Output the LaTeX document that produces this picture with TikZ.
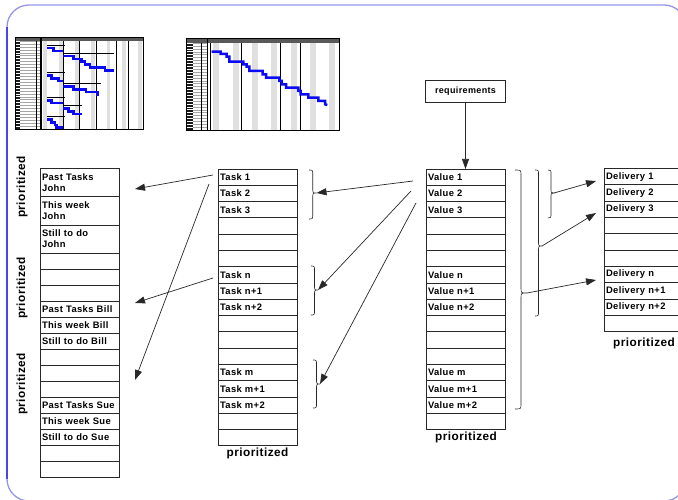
\documentclass[tikz,border=0pt]{standalone}
\usepackage{fontspec}
\setmainfont{Liberation Sans}
\newfontfamily\cellfont[LetterSpace=4]{Liberation Sans}
\usetikzlibrary{arrows.meta,calc}
\definecolor{framec}{RGB}{150,150,232}
\definecolor{frameb}{RGB}{70,70,235}
\definecolor{gblue}{RGB}{10,10,245}
\definecolor{lined}{RGB}{40,40,40}
\newcommand\mybrace[6]{%
  \draw[bracest] (#1,#2) .. controls ({(#1+#5)/2},#2) .. ({(#1+#5)/2},{#2+5})
    -- ({(#1+#5)/2},{#4-5}) .. controls ({(#1+#5)/2},#4) .. (#5,#4)
    .. controls ({(#1+#5)/2},#4) .. ({(#1+#5)/2},{#4+5})
    -- ({(#1+#5)/2},{#3-5}) .. controls ({(#1+#5)/2},#3) .. (#1,#3);
  \coordinate (#6) at (#5,#4);}
\tikzset{
  cell/.style={draw=lined, line width=0.7pt, minimum height=16.28pt, anchor=north west,
    inner xsep=2pt, inner ysep=0pt, outer sep=0pt, text width=75pt, align=left,
    font=\cellfont\bfseries\fontsize{9.4}{11}\selectfont},
  dcell/.style={cell, minimum height=28.3pt},
  scell/.style={cell, minimum height=16pt},
  prio/.style={font=\cellfont\bfseries\fontsize{11.8}{13}\selectfont, inner sep=0pt},
  conn/.style={draw=lined, line width=0.7pt, -{Triangle[length=10pt,width=7pt]}},
  bracest/.style={draw=lined, line width=0.6pt},
  gbar/.style={draw=gblue, line width=2.5pt},
  sbar/.style={draw=black, line width=1.2pt},
}
\begin{document}
\begin{tikzpicture}[x=1pt,y=-1pt]
\useasboundingbox (0,0) rectangle (678,500);
\clip (0,0) rectangle (678,500);
% frame
\draw[framec, line width=1.3pt, rounded corners=22pt] (7,5) rectangle (686,501);
\draw[frameb, line width=1.3pt] (7,27) -- (7,479);

% ---------- Gantt chart 1 ----------
\foreach \b in {43.3,59.1,74.9,90.7,106.5,122.3,138.1}
  \fill[black!12] (\b,41) rectangle ({\b+3.8},129);
\fill[black!65] (15,37) rectangle (143,41);
\fill[black!90] (15,41) rectangle (19.5,129);
\foreach \k in {0,...,30} {
  \draw[white, line width=0.4pt] (15,{41+\k*2.93}) -- (19.5,{41+\k*2.93});
  \draw[black!35, line width=0.3pt] (19.5,{41+\k*2.93}) -- (41,{41+\k*2.93});
}
\draw[line width=0.5pt] (36,41) -- (36,129);
\foreach \v in {63.3,79.3,96,116,128.3} \draw[line width=0.7pt] (\v,41) -- (\v,129);
\draw[line width=1.4pt] (41,37) -- (41,129);
\draw[line width=0.9pt] (15,37) rectangle (143,129);
\draw[sbar] (47.3,45.7)--(65,45.7);
\draw[sbar] (63.3,53.3)--(114,53.3);
\draw[sbar] (47.3,72.7)--(65,72.7);
\draw[sbar] (63.3,83.3)--(100.7,83.3);
\draw[sbar] (47.3,97.7)--(65,97.7);
\draw[sbar] (63.3,105.7)--(81.7,105.7);
\draw[sbar] (47.3,116.7)--(65,116.7);
\draw[gbar] (47.3,48) -- (53.3,48) -- (53.3,51) -- (63.3,51);
\draw[gbar] (63.3,56) -- (73.3,56) -- (73.3,59) -- (81.7,59) -- (81.7,61.7) -- (85,61.7) -- (85,64.3) -- (90,64.3) -- (90,67.3) -- (105,67.3) -- (105,70.3) -- (114,70.3);
\draw[gbar] (47.3,75.3) -- (51.7,75.3) -- (51.7,78.3) -- (58.3,78.3) -- (58.3,81) -- (63.3,81);
\draw[gbar] (63.3,86.7) -- (73.3,86.7) -- (73.3,89.3) -- (86,89.3) -- (86,92) -- (97.3,92) -- (97.3,94.3) -- (99.3,94.3);
\draw[gbar] (47.3,100.3) -- (51.7,100.3) -- (51.7,103) -- (63.3,103);
\draw[gbar] (63.3,108.7) -- (68.3,108.7) -- (68.3,111.3) -- (73.3,111.3) -- (73.3,114) -- (81.7,114);
\draw[gbar] (47.3,119.7) -- (51.7,119.7) -- (51.7,122.3) -- (55,122.3) -- (55,125) -- (56.7,125) -- (56.7,127.7) -- (63.3,127.7);

% ---------- Gantt chart 2 ----------
\foreach \b in {213.3,232.6,251.9,271.2,290.5,309.8,329.1}
  \fill[black!12] (\b,43) rectangle ({\b+6},130);
\fill[black!65] (186,38.3) rectangle (339.3,43);
\fill[black!90] (186,43) rectangle (192.7,130);
\foreach \k in {0,...,29} {
  \draw[white, line width=0.4pt] (186,{43+\k*2.9}) -- (192.7,{43+\k*2.9});
  \draw[black!35, line width=0.3pt] (192.7,{43+\k*2.9}) -- (207.5,{43+\k*2.9});
}
\draw[line width=0.5pt] (201.7,43) -- (201.7,130);
\foreach \v in {210,241.7,280.7,300.7} \draw[line width=0.7pt] (\v,43) -- (\v,130);
\draw[line width=1.4pt] (207.5,38.3) -- (207.5,130);
\draw[line width=0.9pt] (186,38.3) rectangle (339.3,130);
\draw[gbar] (211.7,51.7) -- (220.7,51.7) -- (220.7,54) -- (226.7,54) -- (226.7,56.7) -- (229.3,56.7) -- (229.3,61.7) -- (243.3,61.7) -- (243.3,64.3) -- (246.7,64.3) -- (246.7,66.7) -- (249.3,66.7) -- (249.3,71) -- (262.7,71) -- (262.7,74.3) -- (266,74.3) -- (266,77.7) -- (279.3,77.7) -- (279.3,81) -- (281.7,81) -- (281.7,84.3) -- (286,84.3) -- (286,87.7) -- (298.3,87.7) -- (298.3,91) -- (300.7,91) -- (300.7,94.3) -- (308.3,94.3) -- (308.3,97.7) -- (318.3,97.7) -- (318.3,101) -- (325,101) -- (325,104.3) -- (327.3,105);

% ---------- left column ----------
\node[dcell] (L1) at (40,168.3) {Past Tasks\\John};
\node[dcell] (L2) at (40,196.6) {This week\\John};
\node[dcell] (L3) at (40,224.9) {Still to do\\John};
\foreach \t [count=\i from 4] in {{},{},{},Past Tasks Bill,This week Bill,Still to do Bill,{},{},{},Past Tasks Sue,This week Sue,Still to do Sue,{},{}}
  \node[scell] (L\i) at (40,{253.2+(\i-4)*16}) {\t};
\node[prio, rotate=90] (p1) at (22,187) {prioritized};
\node[prio, rotate=90] (p2) at (22,288) {prioritized};
\node[prio, rotate=90] (p3) at (22,384) {prioritized};

% ---------- task column ----------
\foreach \t [count=\i] in {Task 1,Task 2,Task 3,{},{},{},Task n,Task n+1,Task n+2,{},{},{},Task m,Task m+1,Task m+2,{},{}}
  \node[cell] (T\i) at (218,{169+(\i-1)*16.28}) {\t};
\node[prio] (pt) at (257.5,453) {prioritized};

% ---------- value column ----------
\node[draw=lined, line width=0.7pt, minimum width=80pt, minimum height=22pt, inner sep=0pt,
  font=\cellfont\bfseries\fontsize{9}{10}\selectfont] (req) at (465.5,91) {requirements};
\foreach \t [count=\i] in {Value 1,Value 2,Value 3,{},{},{},Value n,Value n+1,Value n+2,{},{},{},Value m,Value m+1,Value m+2,{}}
  \node[cell] (V\i) at (426,{169+(\i-1)*16.28}) {\t};
\node[prio] (pv) at (466,437.5) {prioritized};

% ---------- delivery column ----------
\foreach \t [count=\i] in {Delivery 1,Delivery 2,Delivery 3,{},{},{},Delivery n,Delivery n+1,Delivery n+2,{}}
  \node[cell] (D\i) at (604,{168.5+(\i-1)*16.3}) {\t};
\node[prio] (pd) at (644,343) {prioritized};

% ---------- braces ----------
\mybrace{309}{170}{219}{193}{316.5}{tb1}
\mybrace{311}{266}{315}{290}{318}{tb2}
\mybrace{313}{360}{408}{384}{320}{tb3}
\mybrace{515}{170}{409}{293}{527}{vbA}
\mybrace{535}{170}{316}{246}{542}{vbB}
\mybrace{548}{170}{218}{193}{554}{vbC}

% ---------- connectors ----------
\coordinate (a1s) at (213,175);  \coordinate (a1e) at (135,189);
\coordinate (a2s) at (209,184);  \coordinate (a2e) at (135,380);
\coordinate (a3s) at (213,278);  \coordinate (a3e) at (135,303);
\draw[conn] (a1s) -- (a1e);
\draw[conn] (a2s) -- (a2e);
\draw[conn] (a3s) -- (a3e);
\coordinate (b1s) at (413,181);
\coordinate (b2s) at (411,191);
\coordinate (b3s) at (416,203);
\draw[conn] (b1s) -- (tb1);
\draw[conn] (b2s) -- (tb2);
\draw[conn] (b3s) -- (tb3);
\coordinate (d1e) at (596,181);
\coordinate (d2e) at (596,213);
\coordinate (d3e) at (596,280);
\draw[conn] (vbC) -- (d1e);
\draw[conn] (vbB) -- (d2e);
\draw[conn] (vbA) -- (d3e);
\draw[conn] (req) -- (V1.north);
\end{tikzpicture}
\end{document}
